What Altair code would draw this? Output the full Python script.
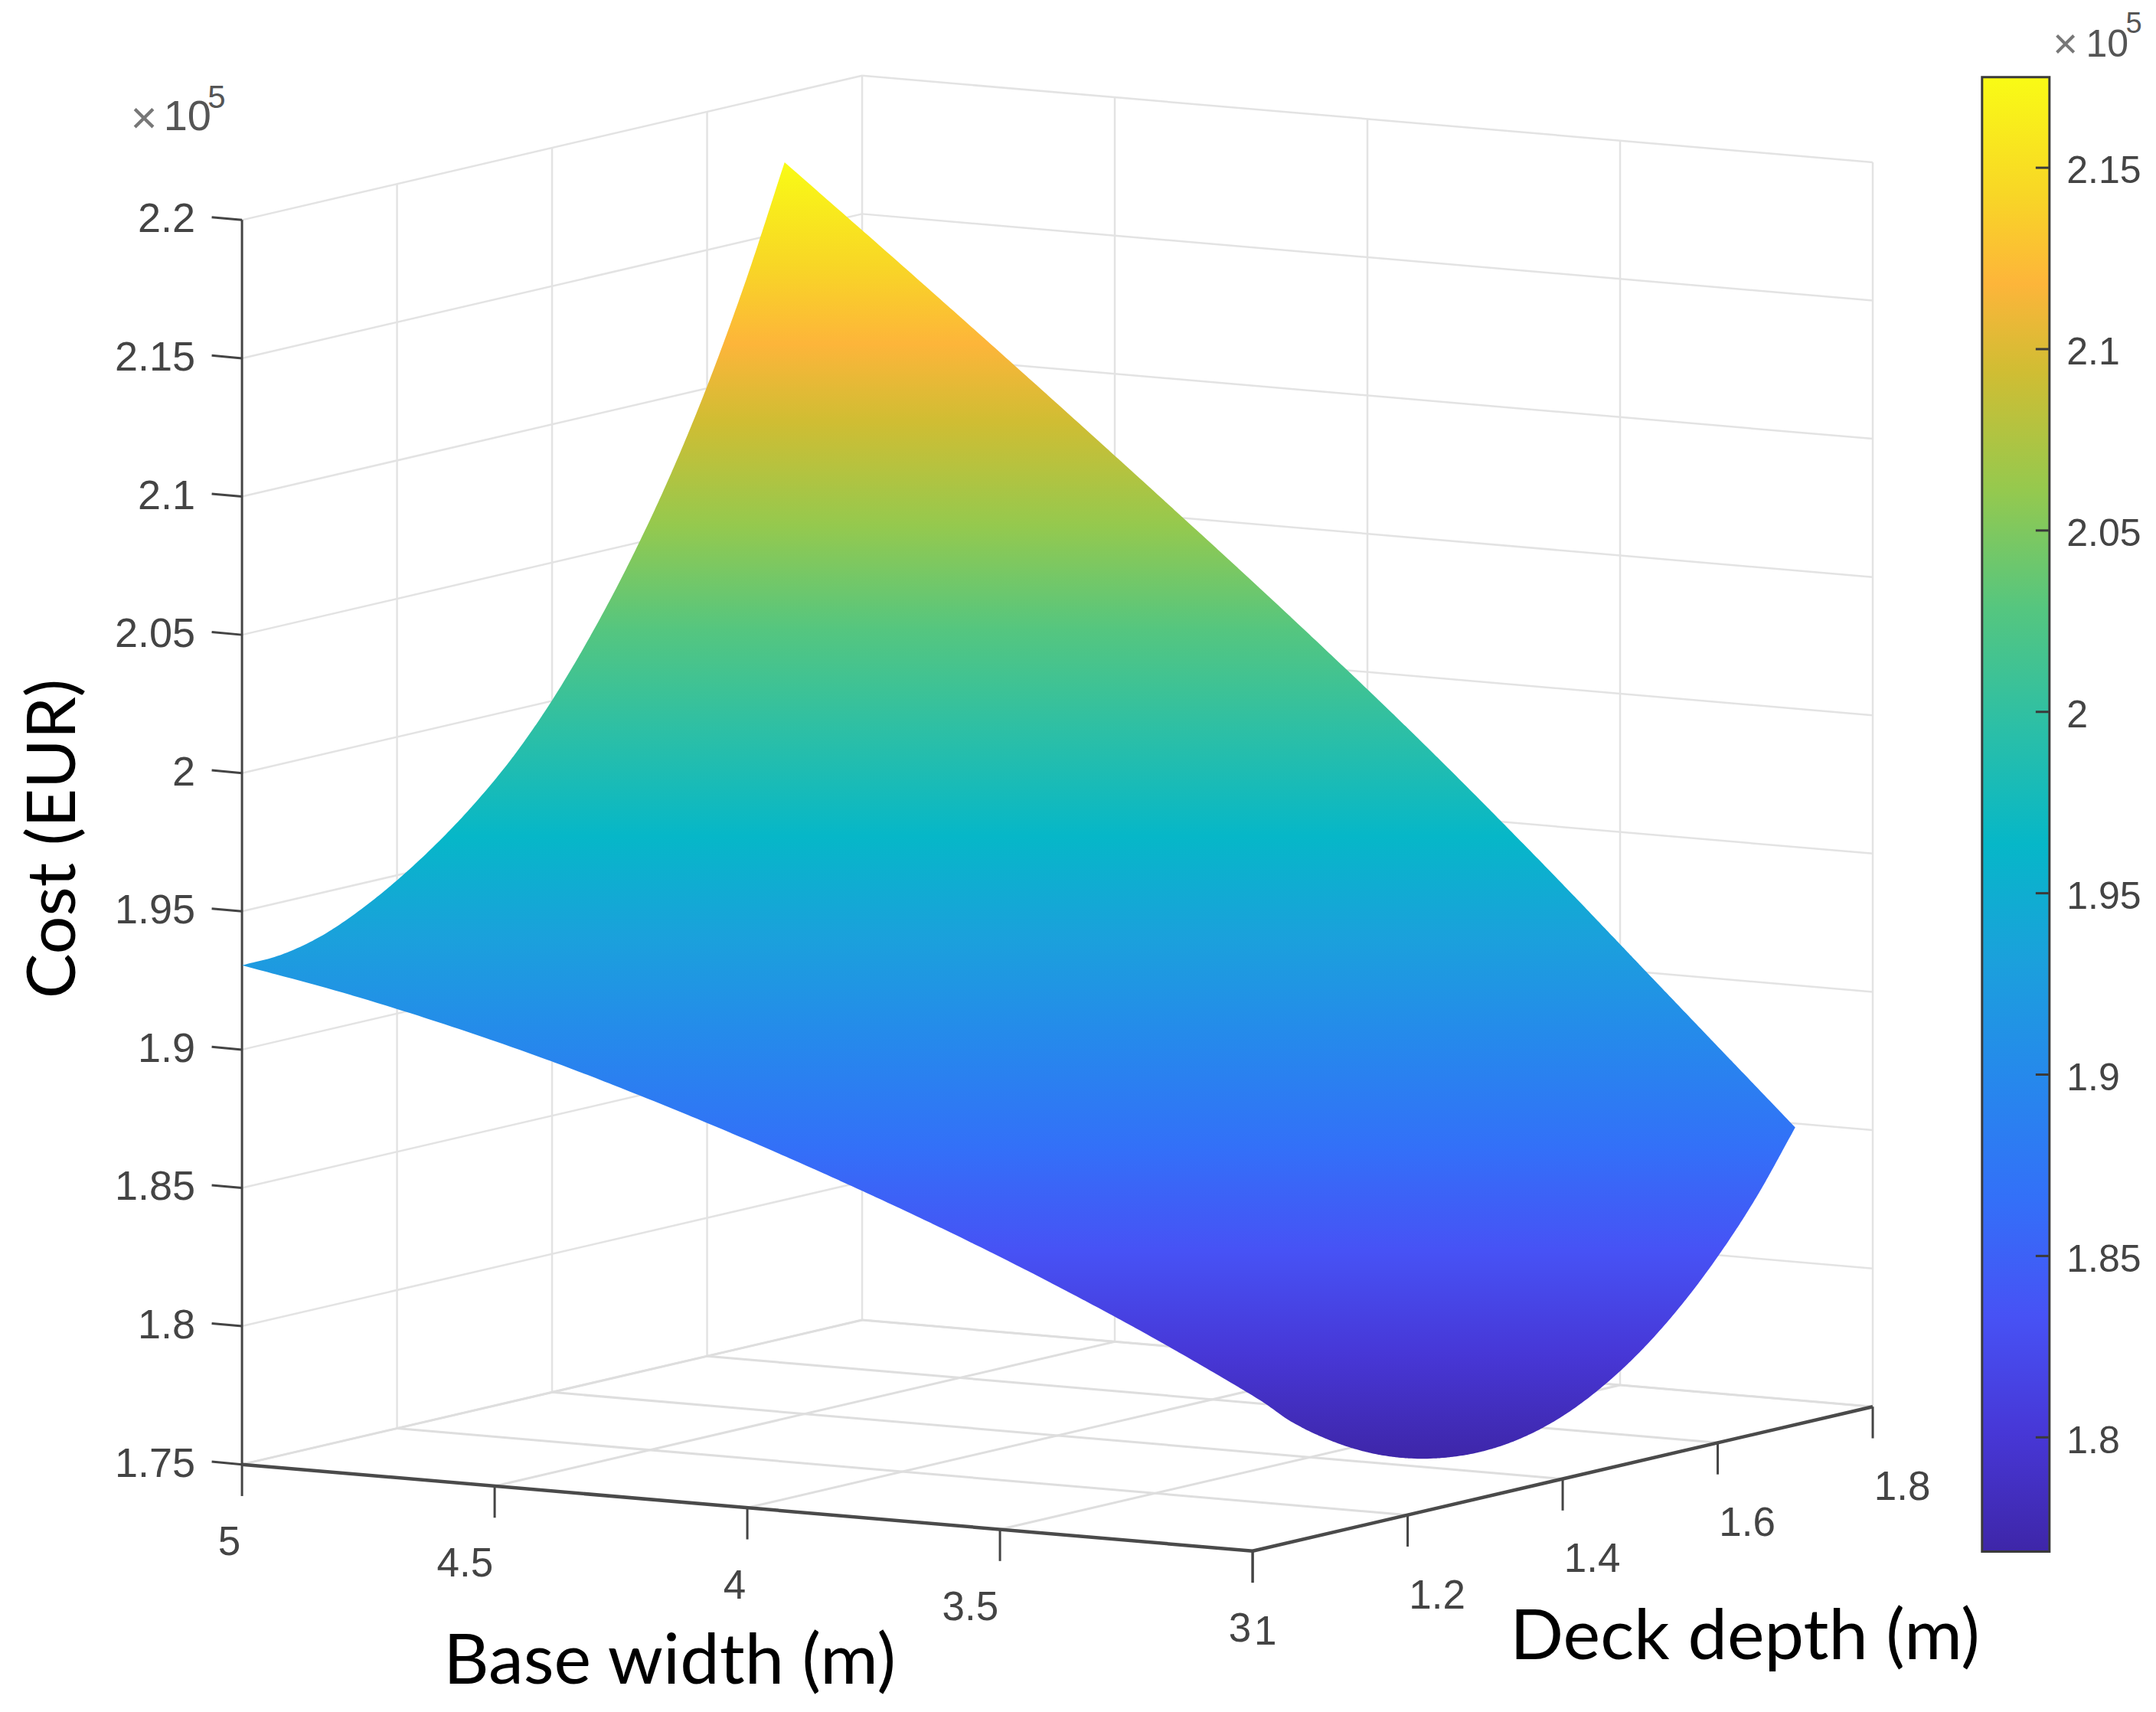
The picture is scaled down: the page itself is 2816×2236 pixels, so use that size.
import numpy as np
import pandas as pd
import altair as alt

# ---- surface edges (cost in units of 1e5 EUR) ----
edge_w5_depth = [1.0,1.05,1.1,1.15,1.2,1.25,1.3,1.35,1.4,1.45,1.5,1.55,1.6,1.65,1.7]
edge_w5_cost = [1.9305,1.9310,1.9342,1.9402,1.9482,1.9579,1.9694,1.9832,2.0002,2.0205,2.0437,2.0702,2.1007,2.1357,2.1752]
edge_d1_width = [5,4.8,4.6,4.4,4.2,4.0,3.8,3.6,3.4,3.2,3.0]
edge_d1_cost = [1.9305,1.9237,1.9155,1.9060,1.8950,1.8830,1.8700,1.8560,1.8408,1.8243,1.8062]
edge_w3_depth = [1.0,1.05,1.1,1.15,1.2,1.25,1.3,1.35,1.4,1.45,1.5,1.55,1.6,1.65,1.7]
edge_w3_cost = [1.8062,1.7935,1.7835,1.7758,1.7705,1.7675,1.7667,1.7684,1.7727,1.7798,1.7895,1.8020,1.8173,1.8356,1.8575]
edge_d17_width = [5,4.75,4.5,4.25,4.0,3.75,3.5,3.25,3.0]
edge_d17_cost = [2.1752,2.1390,2.1022,2.0648,2.0267,1.9871,1.9451,1.9013,1.8575]

width_ticks = [5,4.5,4,3.5,3]
width_labels = ["5","4.5","4","3.5","3"]
depth_ticks = [1,1.2,1.4,1.6,1.8]
depth_labels = ["1","1.2","1.4","1.6","1.8"]
cost_ticks = [1.75,1.8,1.85,1.9,1.95,2,2.05,2.1,2.15,2.2]
cost_labels = ["1.75","1.8","1.85","1.9","1.95","2","2.05","2.1","2.15","2.2"]
cbar_ticks = [1.8,1.85,1.9,1.95,2,2.05,2.1,2.15]
cbar_labels = ["1.8","1.85","1.9","1.95","2","2.05","2.1","2.15"]
cbar_min, cbar_max = 1.7685, 2.175

parula_offsets = [0,0.08,0.16,0.24,0.32,0.40,0.48,0.56,0.64,0.72,0.80,0.86,0.92,1]
parula_colors = ["#3E26A8","#4737D6","#4752F5","#3370F8","#2688EC","#1BA0DC","#06B7C8","#2CBFA6","#55C67F","#95C94E","#D0BD33","#FDB53A","#F8D626","#F9FB15"]

W, H = 2800, 2220
S = 2816 / 1568

def proj(w, d, c):
    w, d, c = np.asarray(w, float), np.asarray(d, float), np.asarray(c, float)
    sx = 176 + 367.5 * (5 - w) + 563.75 * (d - 1)
    sy = 1065 + 31.5 * (5 - w) - 131.25 * (d - 1) - 2011.1 * (c - 1.75)
    return sx, sy

def smooth(px, py, n=12):
    """Catmull-Rom outline through the read points, for a smooth drawn edge."""
    P = np.c_[px, py]
    Q = np.r_[[2 * P[0] - P[1]], P, [2 * P[-1] - P[-2]]]
    out = []
    t = np.linspace(0, 1, n, endpoint=False)[:, None]
    for i in range(1, len(Q) - 2):
        p0, p1, p2, p3 = Q[i - 1], Q[i], Q[i + 1], Q[i + 2]
        out.append(0.5 * (2 * p1 + (p2 - p0) * t + (2 * p0 - 5 * p1 + 4 * p2 - p3) * t ** 2
                          + (3 * p1 - p0 - 3 * p2 + p3) * t ** 3))
    out.append(P[-1:])
    o = np.vstack(out)
    return o[:, 0], o[:, 1]

xs = alt.Scale(domain=[8 / S, (8 + W) / S], nice=False, zero=False)
ys = alt.Scale(domain=[(8 + H) / S, 8 / S], nice=False, zero=False)
X = lambda f: alt.X(f, type="quantitative", scale=xs, axis=None)
Y = lambda f: alt.Y(f, type="quantitative", scale=ys, axis=None)
X2 = lambda f: alt.X2(f)
Y2 = lambda f: alt.Y2(f)

def segs(a, b):
    ax, ay = proj(*a)
    bx, by = proj(*b)
    return pd.DataFrame({"x": ax, "y": ay, "x2": bx, "y2": by})

def rule(df, color, sw):
    return alt.Chart(df).mark_rule(color=color, strokeWidth=sw).encode(
        x=X("x"), y=Y("y"), x2=X2("x2"), y2=Y2("y2"))

def text(xv, yv, labels, align="center", size=50, color="#444444", font="Liberation Sans", angle=None, dx=0, dy=0):
    df = pd.DataFrame({"x": xv, "y": yv, "t": labels})
    kw = dict(align=align, baseline="middle", fontSize=size, color=color, font=font, dx=dx, dy=dy)
    if angle is not None:
        kw["angle"] = angle
    return alt.Chart(df).mark_text(**kw).encode(x=X("x"), y=Y("y"), text="t:N")

WT, DT, CT = np.array(width_ticks, float), np.array(depth_ticks, float), np.array(cost_ticks, float)
one = lambda a, v: np.full(len(a), v, float)

# grid
grid = pd.concat([
    segs((one(CT, 5), one(CT, 1), CT), (one(CT, 5), one(CT, 1.8), CT)),
    segs((one(CT, 5), one(CT, 1.8), CT), (one(CT, 3), one(CT, 1.8), CT)),
    segs((one(DT[1:], 5), DT[1:], one(DT[1:], 1.75)), (one(DT[1:], 5), DT[1:], one(DT[1:], 2.2))),
    segs((WT[1:], one(WT[1:], 1.8), one(WT[1:], 1.75)), (WT[1:], one(WT[1:], 1.8), one(WT[1:], 2.2))),
])
floor = pd.concat([
    segs((one(DT, 5), DT, one(DT, 1.75)), (one(DT, 3), DT, one(DT, 1.75))),
    segs((WT, one(WT, 1), one(WT, 1.75)), (WT, one(WT, 1.8), one(WT, 1.75))),
])

# surface silhouette: the lower boundary runs through the near corner without a break
ax0, ay0 = proj(one(edge_w5_depth, 5), edge_w5_depth, edge_w5_cost)
bx0, by0 = proj(edge_d1_width, one(edge_d1_width, 1), edge_d1_cost)
cx0, cy0 = proj(one(edge_w3_depth, 3), edge_w3_depth, edge_w3_cost)
dx0, dy0 = proj(edge_d17_width, one(edge_d17_width, 1.7), edge_d17_cost)
ax_, ay_ = smooth(ax0, ay0)
lowx, lowy = smooth(np.r_[bx0, cx0[1:]], np.r_[by0, cy0[1:]])
dx_, dy_ = smooth(dx0, dy0)
k = int(np.argmax(lowy))
lx = np.r_[ax_[::-1], lowx[1:k + 1]]
ly = np.r_[ay_[::-1], lowy[1:k + 1]]
rx = np.r_[dx_, lowx[k:-1][::-1]]
ry = np.r_[dy_, lowy[k:-1][::-1]]
rows = np.unique(np.r_[ly, ry])
surf = pd.DataFrame({"sy": rows, "left": np.interp(rows, ly, lx), "right": np.interp(rows, ry, rx)})

stops_top = [alt.GradientStop(offset=1 - o, color=c) for o, c in zip(parula_offsets, parula_colors)][::-1]

surface = alt.Chart(surf).mark_area(
    orient="horizontal", interpolate="linear",
    color=alt.LinearGradient(gradient="linear", stops=stops_top, x1=0, x2=0, y1=0, y2=1),
).encode(y=Y("sy"), x=X("left"), x2=X2("right"))

# axes
z_axis = segs((one([0], 5), one([0], 1), one([0], 1.75)), (one([0], 5), one([0], 1), one([0], 2.2)))
x_axis = segs((one([0], 5), one([0], 1), one([0], 1.75)), (one([0], 3), one([0], 1), one([0], 1.75)))
y_axis = segs((one([0], 3), one([0], 1), one([0], 1.75)), (one([0], 3), one([0], 1.8), one([0], 1.75)))
z_tx, z_ty = proj(one(CT, 5), one(CT, 1), CT)
z_ticks = pd.DataFrame({"x": z_tx, "y": z_ty, "x2": z_tx - 22, "y2": z_ty - 2})
x_tx, x_ty = proj(WT, one(WT, 1), one(WT, 1.75))
x_ticks = pd.DataFrame({"x": x_tx, "y": x_ty, "x2": x_tx, "y2": x_ty + 23})
y_tx, y_ty = proj(one(DT, 3), DT, one(DT, 1.75))
y_ticks = pd.DataFrame({"x": y_tx, "y": y_ty, "x2": y_tx, "y2": y_ty + 23})

# colour bar
def cb_y(c):
    return 122 + (2.15 - np.asarray(c, float)) / 0.05 * 131.9

CB_L, CB_R = 1441.5, 1490.5
cbar_df = pd.DataFrame({"x": [CB_L], "x2": [CB_R], "y": [cb_y(cbar_max)], "y2": [cb_y(cbar_min)]})
cbar = alt.Chart(cbar_df).mark_rect(
    color=alt.LinearGradient(gradient="linear", stops=stops_top, x1=0, x2=0, y1=0, y2=1),
    stroke="#3a3a3a", strokeWidth=3,
).encode(x=X("x"), x2=X2("x2"), y=Y("y"), y2=Y2("y2"))
cb_t = cb_y(cbar_ticks)
cb_ticks = pd.DataFrame({"x": one(cb_t, CB_R - 10), "x2": one(cb_t, CB_R), "y": cb_t, "y2": cb_t})

layers = [
    rule(grid, "#e3e3e3", 2.5),
    rule(floor, "#dedede", 3),
    rule(z_ticks, "#444444", 3),
    rule(x_ticks, "#444444", 3),
    rule(y_ticks, "#444444", 3),
    rule(z_axis, "#444444", 3),
    rule(x_axis, "#4a4a4a", 4.5),
    rule(y_axis, "#4a4a4a", 4.5),
    surface,
    cbar,
    rule(cb_ticks, "#3a3a3a", 3),
    text(z_tx - 34, z_ty, cost_labels, align="right", size=54),
    text(x_tx - 1, x_ty + 57, width_labels, align="right", size=53),
    text(y_tx + 1, y_ty + 59, depth_labels, align="left", size=53),
    text(np.full(len(cb_t), 1503), cb_t + 3, cbar_labels, align="left", size=50),
    text([95], [87], ["×"], align="left", size=60, color="#777777"),
    text([119], [85], ["10"], align="left", size=56, color="#555555"),
    text([151], [71], ["5"], align="left", size=42, color="#555555"),
    text([1493], [33], ["×"], align="left", size=56, color="#777777"),
    text([1517], [33], ["10"], align="left", size=50, color="#555555"),
    text([1546], [18], ["5"], align="left", size=38, color="#555555"),
    text([40], [610], ["Cost (EUR)"], size=88, color="#000000", font="Lato", angle=270),
    text([487], [1209], ["Base width (m)"], size=92, color="#000000", font="Lato"),
    text([1269], [1191], ["Deck depth (m)"], size=92, color="#000000", font="Lato"),
]

chart = alt.layer(*layers).properties(
    width=W, height=H, padding=0,
    autosize=alt.AutoSizeParams(type="none"),
    background="white",
).configure_view(stroke=None)

chart.save("out.html", embed_options={"renderer": "svg", "actions": False})
